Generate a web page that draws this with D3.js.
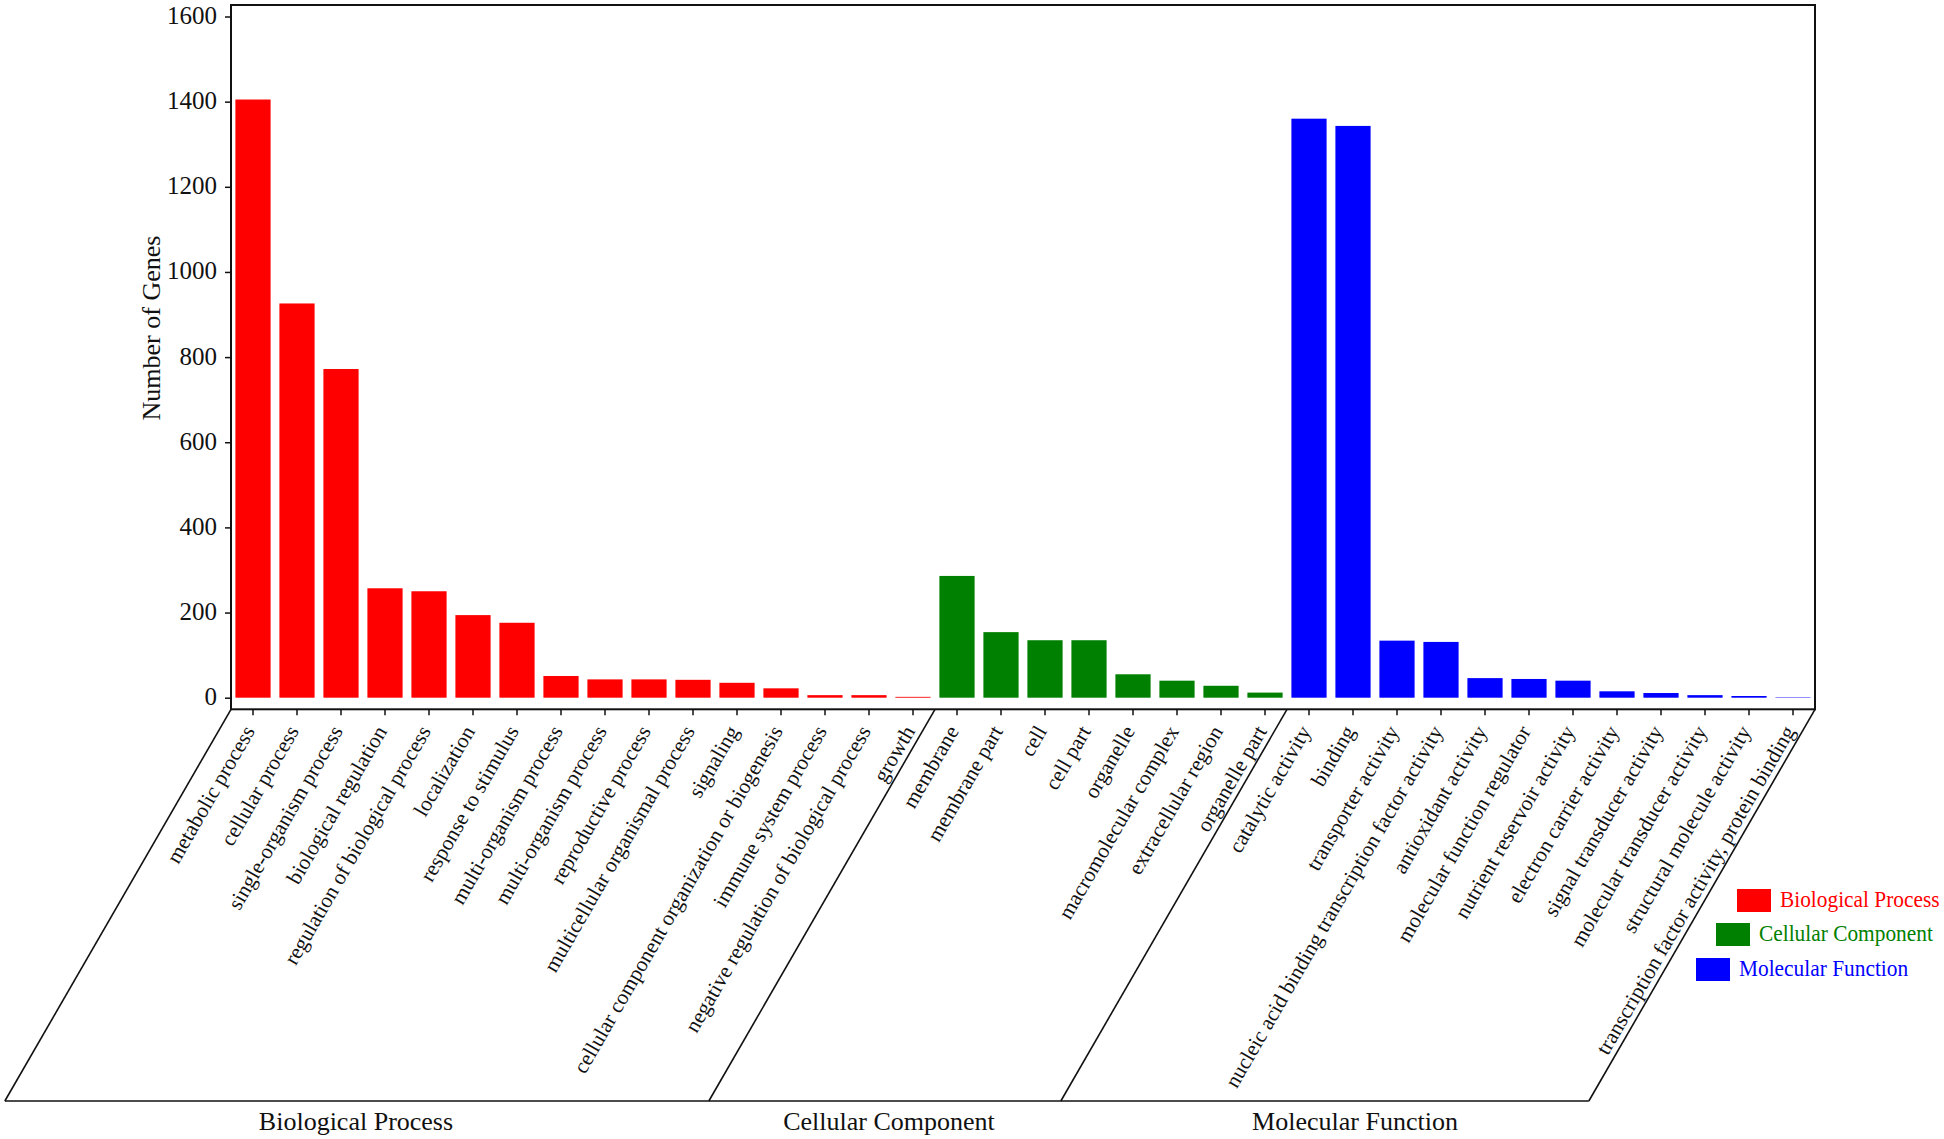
<!DOCTYPE html>
<html>
<head>
<meta charset="utf-8">
<script src="https://cdn.jsdelivr.net/npm/d3@7"></script>
<style>
  html, body { margin: 0; padding: 0; background: #fff; }
  svg { display: block; }
</style>
</head>
<body>
<svg id="chart" width="1944" height="1139"></svg>
<script>
// ---------------- data ----------------
const bpCategories = ["metabolic process", "cellular process", "single-organism process", "biological regulation",
  "regulation of biological process", "localization", "response to stimulus", "multi-organism process",
  "multi-organism process", "reproductive process", "multicellular organismal process", "signaling",
  "cellular component organization or biogenesis", "immune system process",
  "negative regulation of biological process", "growth"];
const bpValues = [1405, 926, 772, 257, 250, 194, 176, 51, 43, 43, 42, 35, 22, 6, 6, 2];

const ccCategories = ["membrane", "membrane part", "cell", "cell part", "organelle",
  "macromolecular complex", "extracellular region", "organelle part"];
const ccValues = [286, 154, 135, 135, 55, 40, 28, 12];

const mfCategories = ["catalytic activity", "binding", "transporter activity",
  "nucleic acid binding transcription factor activity", "antioxidant activity",
  "molecular function regulator", "nutrient reservoir activity", "electron carrier activity",
  "signal transducer activity", "molecular transducer activity", "structural molecule activity",
  "transcription factor activity, protein binding"];
const mfValues = [1360, 1343, 134, 131, 46, 44, 40, 15, 11, 6, 4, 1];

const groupNames = ["Biological Process", "Cellular Component", "Molecular Function"];
const groupColors = ["#ff0000", "#008000", "#0000ff"];
const yTicks = [0, 200, 400, 600, 800, 1000, 1200, 1400, 1600];
const yTitle = "Number of Genes";

(function () {
// ---------------- build rows ----------------
const groups = [
  { cats: bpCategories, vals: bpValues },
  { cats: ccCategories, vals: ccValues },
  { cats: mfCategories, vals: mfValues }
];
const rows = [];
groups.forEach((g, gi) => g.cats.forEach((c, i) => rows.push({ key: gi + "|" + i + "|" + c, label: c, value: g.vals[i], group: gi })));

// ---------------- layout ----------------
const plotLeft = 231, plotRight = 1815, plotTop = 5, boxBottom = 709.3;
const font = "'Liberation Serif', 'Times New Roman', serif";
const svg = d3.select("#chart");

const x = d3.scaleBand().domain(rows.map(r => r.key)).range([plotLeft, plotRight]).paddingInner(0.2).paddingOuter(0.1);
const y = d3.scaleLinear().domain([0, 1600]).range([697.7, 16.5]);

// bars
svg.append("g").selectAll("rect").data(rows).join("rect")
  .attr("x", d => x(d.key))
  .attr("width", x.bandwidth())
  .attr("y", d => y(d.value))
  .attr("height", d => y(0) - y(d.value))
  .attr("fill", d => groupColors[d.group]);

// plot box
svg.append("rect")
  .attr("x", plotLeft).attr("y", plotTop)
  .attr("width", plotRight - plotLeft).attr("height", boxBottom - plotTop)
  .attr("fill", "none").attr("stroke", "#111").attr("stroke-width", 2);

// y axis
const yAxis = svg.append("g").attr("transform", `translate(${plotLeft},0)`)
  .call(d3.axisLeft(y).tickValues(yTicks).tickFormat(d3.format("d")).tickSize(6).tickPadding(8).tickSizeOuter(0));
yAxis.select(".domain").remove();
yAxis.selectAll("line").attr("stroke", "#111").attr("stroke-width", 1.5);
yAxis.selectAll("text").attr("font-family", font).attr("font-size", 25).attr("fill", "#111").attr("dy", "0.28em");

// x axis
const xAxis = svg.append("g").attr("transform", `translate(0,${boxBottom})`)
  .call(d3.axisBottom(x).tickSize(6).tickSizeOuter(0).tickFormat(k => rows.find(r => r.key === k).label));
xAxis.select(".domain").remove();
xAxis.selectAll("line").attr("stroke", "#111").attr("stroke-width", 1.5);
xAxis.selectAll("text")
  .attr("font-family", font).attr("font-size", 21.5).attr("fill", "#111")
  .attr("y", null).attr("x", null).attr("dy", "0.35em")
  .attr("text-anchor", "end")
  .attr("transform", `translate(-4,18) rotate(-60)`);

// y title
svg.append("text")
  .attr("transform", `translate(160,328) rotate(-90)`)
  .attr("text-anchor", "middle")
  .attr("font-family", font).attr("font-size", 26).attr("fill", "#111")
  .text(yTitle);

// slanted category frame
const drop = 1101 - boxBottom;
const shift = drop / Math.tan(60 * Math.PI / 180);
const bottomY = boxBottom + drop;
const boundaries = [0, bpCategories.length, bpCategories.length + ccCategories.length, rows.length]
  .map(i => plotLeft + i * x.step());
const frame = svg.append("g").attr("stroke", "#111").attr("stroke-width", 1.6).attr("fill", "none");
boundaries.forEach(b => {
  frame.append("line").attr("x1", b).attr("y1", boxBottom).attr("x2", b - shift).attr("y2", bottomY);
});
frame.append("line").attr("x1", boundaries[0] - shift).attr("y1", bottomY)
  .attr("x2", boundaries[3] - shift).attr("y2", bottomY);

// group labels
const groupLabelX = [356, 889, 1355];
groupNames.forEach((g, i) => {
  svg.append("text")
    .attr("x", groupLabelX[i]).attr("y", 1130)
    .attr("text-anchor", "middle")
    .attr("font-family", font).attr("font-size", 26).attr("fill", "#111")
    .text(g);
});

// legend
const legendPos = [[1737, 889], [1716, 923], [1696, 958]];
groupNames.forEach((g, i) => {
  const [lx, ly] = legendPos[i];
  svg.append("rect").attr("x", lx).attr("y", ly).attr("width", 34).attr("height", 23).attr("fill", groupColors[i]);
  svg.append("text").attr("transform", `translate(${lx + 43},${ly + 18}) scale(0.93,1)`)
    .attr("font-family", font).attr("font-size", 23).attr("fill", groupColors[i])
    .text(g);
});
})();
</script>
</body>
</html>
